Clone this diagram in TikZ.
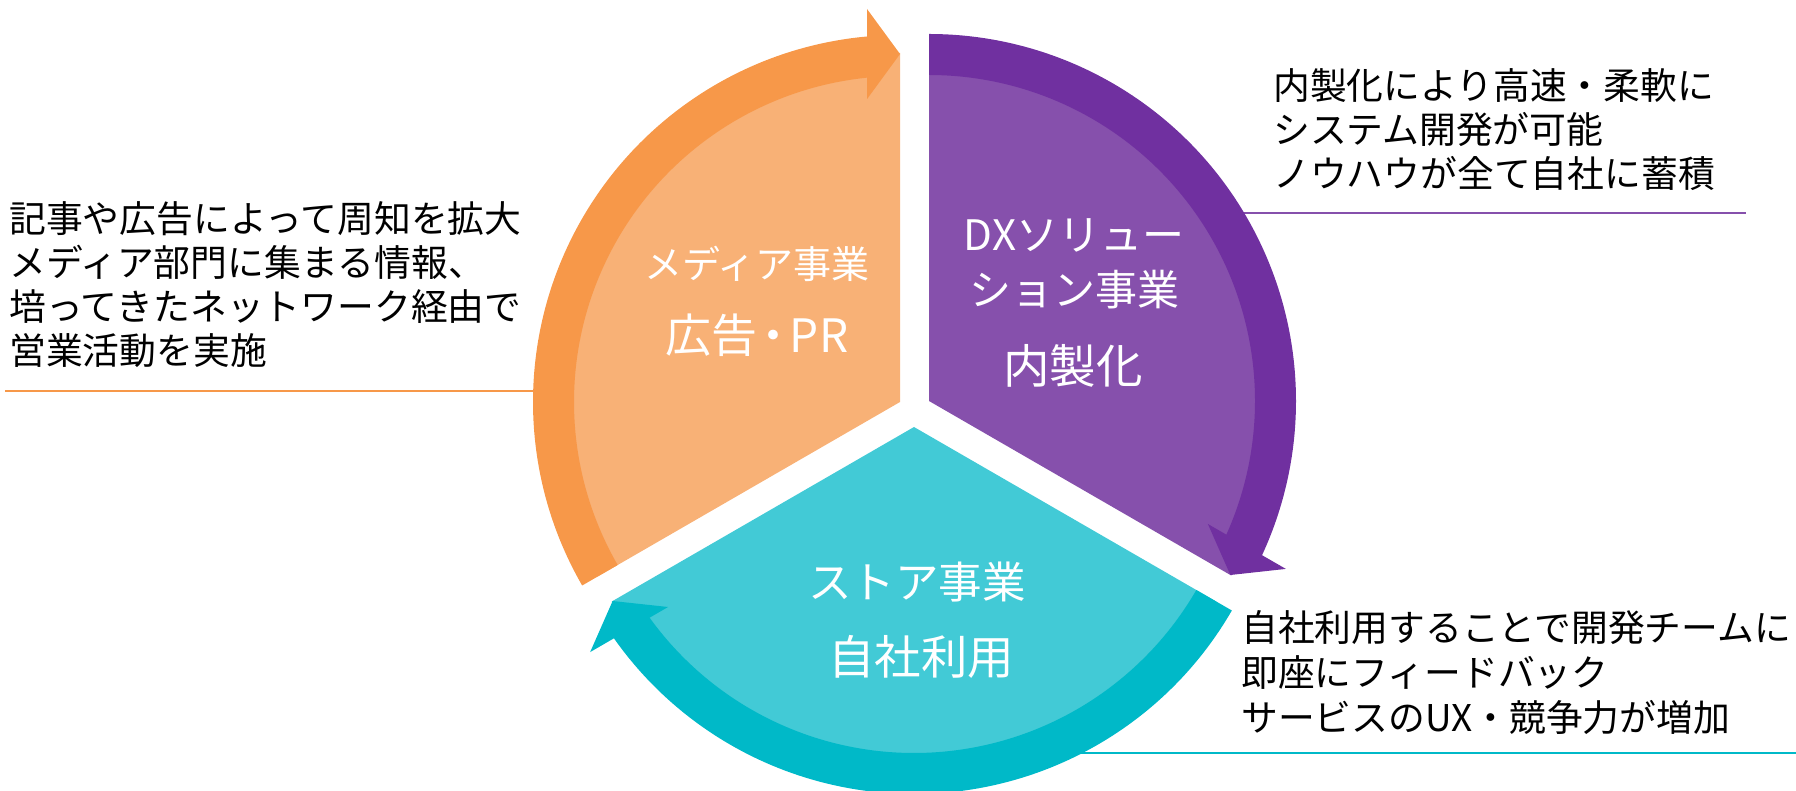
\documentclass[tikz,border=0pt]{standalone}
\usepackage{fontspec}
\setmainfont{Noto Sans CJK JP}
\definecolor{odark}{HTML}{F79849}
\definecolor{olight}{HTML}{F8B176}
\definecolor{pdark}{HTML}{7030A0}
\definecolor{plight}{HTML}{8650AC}
\definecolor{tdark}{HTML}{00B9C8}
\definecolor{tlight}{HTML}{42CAD6}
\newcommand{\cyclesector}[4]{%
  \begin{scope}[shift={#1}]
    \fill[#4] (0,0) -- (#2+120:349pt) arc[start angle=#2+120, end angle=#2, radius=349pt] -- cycle;
    \fill[#3] (#2+120:326pt) -- (#2+120:367pt) arc[start angle=#2+120, end angle=#2+5, radius=367pt]
      -- (#2+5:326pt) arc[start angle=#2+5, end angle=#2+120, radius=326pt] -- cycle;
    \fill[#3] (#2+4.8:394.4pt) -- (#2:348pt) -- (#2+6.2:304.8pt) -- cycle;
  \end{scope}}
\tikzset{
  desc/.style={anchor=base west, inner sep=0pt, text=black, font=\fontsize{36.8}{44}\selectfont},
  inlabel/.style={anchor=base, inner sep=0pt, text=white},
  uline/.style={line width=2.2pt},
}
\begin{document}
\begin{tikzpicture}[x=1pt, y=1pt]
\useasboundingbox (0,0) rectangle (1796,790);
% underlines (behind the wheel)
\coordinate (ol1) at (5,399);
\coordinate (ol2) at (620,399);
\coordinate (pl1) at (1180,577);
\coordinate (pl2) at (1746,577);
\coordinate (tl1) at (1000,37);
\coordinate (tl2) at (1796,37);
\draw[uline, odark] (ol1) -- (ol2);
\draw[uline, plight] (pl1) -- (pl2);
\draw[uline, tdark] (tl1) -- (tl2);
% wheel
\cyclesector{(900,388)}{90}{odark}{olight}
\cyclesector{(929,389)}{-30}{pdark}{plight}
\cyclesector{(914,363)}{210}{tdark}{tlight}
% inner labels
\node[inlabel, font=\fontsize{38}{40}\selectfont] (m1) at (757,511) {メディア事業};
\node[inlabel, font=\fontsize{46}{48}\selectfont] (m2) at (757,437) {広告\kern-0.15em・\kern-0.15em PR};
\node[inlabel, font=\fontsize{42}{44}\selectfont] (d1) at (1074,539) {DXソリュー};
\node[inlabel, font=\fontsize{42}{44}\selectfont] (d2) at (1074,484) {ション事業};
\node[inlabel, font=\fontsize{46.5}{48}\selectfont] (d3) at (1073,406) {内製化};
\node[inlabel, font=\fontsize{43.5}{44}\selectfont] (s1) at (917,191) {ストア事業};
\node[inlabel, font=\fontsize{46.5}{48}\selectfont] (s2) at (921,115) {自社利用};
% descriptions
\node[desc] (l1) at (9,557.3) {記事や広告によって周知を拡大};
\node[desc] (l2) at (9,513.3) {メディア部門に集まる情報、};
\node[desc] (l3) at (9,469.3) {培ってきたネットワーク経由で};
\node[desc] (l4) at (9,425.3) {営業活動を実施};
\node[desc] (r1) at (1273,690.3) {内製化により高速・柔軟に};
\node[desc] (r2) at (1273,646.3) {システム開発が可能};
\node[desc] (r3) at (1273,602.3) {ノウハウが全て自社に蓄積};
\node[desc] (b1) at (1241,148.3) {自社利用することで開発チームに};
\node[desc] (b2) at (1241,103.3) {即座にフィードバック};
\node[desc] (b3) at (1241,58.3) {サービスのUX・競争力が増加};
\end{tikzpicture}
\end{document}
